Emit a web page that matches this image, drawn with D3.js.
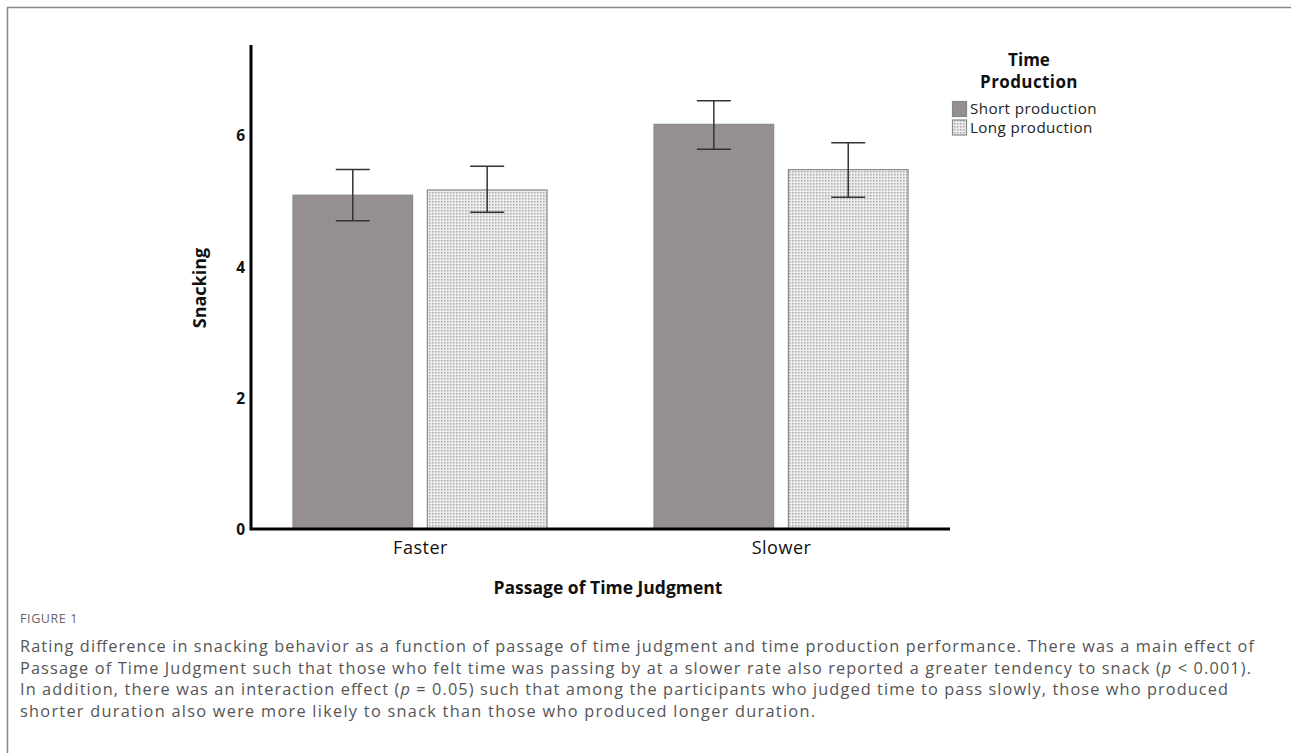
<!DOCTYPE html>
<html><head><meta charset="utf-8">
<script src="https://cdn.jsdelivr.net/npm/d3@7"></script>
<style>html,body{margin:0;padding:0;background:#fff;}</style>
</head><body>
<script>
const categories = ["Faster", "Slower"];
const seriesNames = ["Short production", "Long production"];
const shortMeans = [5.09, 6.17];
const longMeans = [5.17, 5.48];
const shortLow = [4.70, 5.79];
const shortHigh = [5.48, 6.53];
const longLow = [4.83, 5.06];
const longHigh = [5.53, 5.89];
const yTicks = [0, 2, 4, 6];
const captionLines = [
  "Rating difference in snacking behavior as a function of passage of time judgment and time production performance. There was a main effect of",
  "Passage of Time Judgment such that those who felt time was passing by at a slower rate also reported a greater tendency to snack (p < 0.001).",
  "In addition, there was an interaction effect (p = 0.05) such that among the participants who judged time to pass slowly, those who produced",
  "shorter duration also were more likely to snack than those who produced longer duration."
];
const captionWidths = [1234, 1231, 1208, 795];

const W = 1291, H = 753;
const svg = d3.select("body").append("svg").attr("width", W).attr("height", H)
  .style("font-family", "'Open Sans', sans-serif");

const defs = svg.append("defs");
const pat = defs.append("pattern").attr("id", "dots").attr("patternUnits", "userSpaceOnUse")
  .attr("width", 3).attr("height", 3);
pat.append("rect").attr("width", 3).attr("height", 3).attr("fill", "#ececec");
pat.append("rect").attr("x", 0).attr("y", 0).attr("width", 1.5).attr("height", 1.5).attr("fill", "#a9a9a9");

// frame
svg.append("path").attr("d", `M7.5,${H} V7.5 H${W}`).attr("fill", "none").attr("stroke", "#888").attr("stroke-width", 1.5);

const x0 = d3.scalePoint().domain(categories).range([251, 950]).padding(0.468);
const x1 = d3.scaleBand().domain(seriesNames).range([-127, 127]).paddingInner(0.11);
const y = d3.scaleLinear().domain([0, 7.38]).range([529, 45]);

const data = categories.map((c, i) => [
  {cat: c, s: seriesNames[0], v: shortMeans[i], lo: shortLow[i], hi: shortHigh[i]},
  {cat: c, s: seriesNames[1], v: longMeans[i], lo: longLow[i], hi: longHigh[i]}
]).flat();

const fills = {"Short production": "#958f8f", "Long production": "url(#dots)"};

svg.selectAll("rect.bar").data(data).join("rect").attr("class", "bar")
  .attr("x", d => x0(d.cat) + x1(d.s))
  .attr("width", x1.bandwidth())
  .attr("y", d => y(d.v))
  .attr("height", d => y(0) - y(d.v))
  .attr("fill", d => fills[d.s])
  .attr("stroke", "#8a8a8a").attr("stroke-width", 1.2);

// error bars
const eb = svg.selectAll("g.eb").data(data).join("g").attr("class", "eb")
  .attr("transform", d => `translate(${x0(d.cat) + x1(d.s) + x1.bandwidth() / 2},0)`);
eb.append("line").attr("y1", d => y(d.lo)).attr("y2", d => y(d.hi)).attr("stroke", "#333").attr("stroke-width", 1.5);
eb.append("line").attr("x1", -17).attr("x2", 17).attr("y1", d => y(d.hi)).attr("y2", d => y(d.hi)).attr("stroke", "#333").attr("stroke-width", 1.5);
eb.append("line").attr("x1", -17).attr("x2", 17).attr("y1", d => y(d.lo)).attr("y2", d => y(d.lo)).attr("stroke", "#333").attr("stroke-width", 1.5);

// axes
const yAxis = d3.axisLeft(y).tickValues(yTicks).tickSize(0).tickPadding(6).tickFormat(d3.format("d"));
const gy = svg.append("g").attr("transform", "translate(251,0)").call(yAxis);
gy.select(".domain").remove();
gy.selectAll("text").attr("font-size", 15.5).attr("font-weight", "bold").attr("fill", "#111")
  .attr("font-family", "'Open Sans', sans-serif").attr("dy", "0.35em");

const xAxis = d3.axisBottom(x0).tickSize(0).tickPadding(12);
const gx = svg.append("g").attr("transform", "translate(0,529)").call(xAxis);
gx.select(".domain").remove();
gx.selectAll("text").attr("font-size", 18).attr("fill", "#111").attr("letter-spacing", "0.5px")
  .attr("font-family", "'Open Sans', sans-serif");

svg.append("path").attr("d", `M251,${y.range()[1]} V${y(0)} H950`).attr("fill", "none")
  .attr("stroke", "#000").attr("stroke-width", 3);

svg.append("text").attr("x", 608).attr("y", 594).attr("text-anchor", "middle")
  .attr("font-size", 17.5).attr("font-weight", "bold").attr("fill", "#111").text("Passage of Time Judgment");
svg.append("text").attr("transform", "translate(206,288) rotate(-90)").attr("text-anchor", "middle")
  .attr("font-size", 18).attr("font-weight", "bold").attr("fill", "#111").text("Snacking");

// legend
const lg = svg.append("g");
lg.append("text").attr("x", 1029).attr("y", 66).attr("text-anchor", "middle").attr("font-size", 17).attr("font-weight", "bold").attr("fill", "#111").text("Time");
lg.append("text").attr("x", 1029).attr("y", 88).attr("text-anchor", "middle").attr("font-size", 17).attr("font-weight", "bold").attr("fill", "#111").attr("letter-spacing", "0.4px").text("Production");
seriesNames.forEach((s, i) => {
  lg.append("rect").attr("x", 952.5).attr("y", 101.5 + i * 18.5).attr("width", 14).attr("height", 15)
    .attr("fill", fills[s]).attr("stroke", "#888").attr("stroke-width", 1.2);
  lg.append("text").attr("x", 970).attr("y", 114 + i * 18.5).attr("font-size", 15.2).attr("letter-spacing", "0.4px").attr("fill", "#222").text(s);
});

// caption
svg.append("text").attr("x", 20).attr("y", 623).attr("font-size", 12.5).attr("fill", "#666")
  .attr("letter-spacing", "0.6px")
  .attr("font-family", "'Open Sans', sans-serif").text("FIGURE 1");
captionLines.forEach((t, i) => {
  const tx = svg.append("text").attr("x", 20).attr("y", 652 + i * 21.5).attr("font-size", 16.3).attr("fill", "#555")
    .attr("font-family", "'Open Sans', sans-serif")
    .attr("textLength", captionWidths[i]).attr("lengthAdjust", "spacing");
  const parts = t.split(/(\(p )/);
  parts.forEach(p => {
    if (p === "(p ") {
      tx.append("tspan").text("(");
      tx.append("tspan").attr("font-style", "italic").text("p");
      tx.append("tspan").text(" ");
    } else tx.append("tspan").text(p);
  });
});
</script>
</body></html>
